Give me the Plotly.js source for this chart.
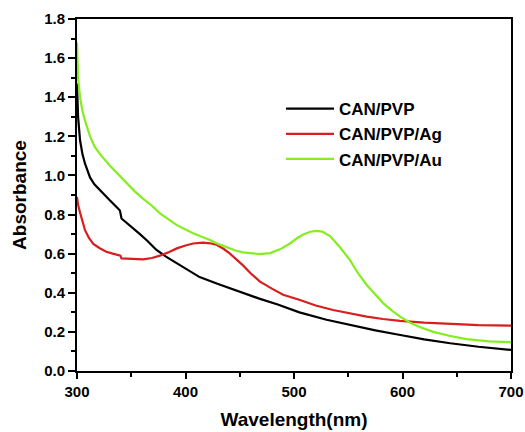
<!DOCTYPE html>
<html>
<head>
<meta charset="utf-8">
<script src="https://cdn.plot.ly/plotly-3.0.1.min.js"></script>
<style>html,body{margin:0;padding:0;background:#fff;}#chart{width:525px;height:432px;}</style>
</head>
<body>
<div id="chart"></div>
<script>
// CAN/PVP
const pvpX = [300, 301, 302.8, 305, 307.4, 312, 316, 321, 330, 338, 339.6, 341, 350, 358, 365, 373, 382, 392, 402, 413, 430, 447, 468, 485, 505, 530, 552, 575, 598, 620, 644, 670, 700];
const pvpY = [1.47, 1.30, 1.18, 1.11, 1.06, 0.99, 0.955, 0.925, 0.874, 0.83, 0.82, 0.78, 0.74, 0.70, 0.665, 0.62, 0.585, 0.55, 0.515, 0.48, 0.445, 0.41, 0.37, 0.34, 0.30, 0.262, 0.235, 0.208, 0.184, 0.162, 0.142, 0.124, 0.108];
// CAN/PVP/Ag
const agX = [300, 301, 302.8, 305, 307.4, 311, 315, 321, 327, 333, 339, 340, 341, 350, 361, 369, 376.5, 385, 392, 400, 407, 416, 423, 429, 435, 441, 447, 453, 460, 468.7, 480, 490, 505.5, 520, 536, 550, 567, 582, 597.7, 620, 643.8, 670, 700];
const agY = [0.89, 0.85, 0.81, 0.76, 0.72, 0.68, 0.65, 0.628, 0.61, 0.60, 0.593, 0.59, 0.576, 0.573, 0.571, 0.578, 0.59, 0.608, 0.627, 0.642, 0.652, 0.656, 0.653, 0.644, 0.625, 0.60, 0.572, 0.54, 0.50, 0.457, 0.42, 0.39, 0.363, 0.335, 0.312, 0.295, 0.278, 0.266, 0.256, 0.247, 0.240, 0.235, 0.232];
// CAN/PVP/Au
const auX = [300, 300.5, 301, 302.8, 305, 307.4, 312, 316, 321, 330.4, 338, 345.8, 353, 361, 369, 376.5, 384, 392, 400, 407, 415, 422.6, 430, 438, 446, 453, 460, 468, 478, 487, 496.3, 503, 508.6, 515, 520.9, 526, 533.2, 542, 551.6, 559, 567, 575, 582.4, 590, 597.7, 607, 617, 628.4, 643, 659, 680, 700];
const auY = [1.68, 1.59, 1.50, 1.40, 1.33, 1.28, 1.20, 1.15, 1.11, 1.05, 1.005, 0.96, 0.92, 0.88, 0.845, 0.806, 0.775, 0.746, 0.724, 0.704, 0.686, 0.67, 0.65, 0.632, 0.616, 0.607, 0.601, 0.598, 0.603, 0.622, 0.652, 0.68, 0.698, 0.712, 0.717, 0.713, 0.69, 0.635, 0.567, 0.50, 0.44, 0.39, 0.346, 0.31, 0.278, 0.247, 0.222, 0.20, 0.18, 0.163, 0.152, 0.147];

const seriesNames = ["CAN/PVP", "CAN/PVP/Ag", "CAN/PVP/Au"];
const seriesColors = ["#000000", "#d81e1e", "#84ee1e"];

const traces = [
  {x: pvpX, y: pvpY, name: seriesNames[0], type: "scatter", mode: "lines", line: {color: seriesColors[0], width: 2.2}},
  {x: agX, y: agY, name: seriesNames[1], type: "scatter", mode: "lines", line: {color: seriesColors[1], width: 2.2}},
  {x: auX, y: auY, name: seriesNames[2], type: "scatter", mode: "lines", line: {color: seriesColors[2], width: 2.2}}
];

const layout = {
  width: 525, height: 432,
  margin: {l: 77, r: 14, t: 19, b: 61},
  paper_bgcolor: "#ffffff", plot_bgcolor: "#ffffff",
  font: {family: "Liberation Sans, Arial, sans-serif", color: "#000", weight: "bold"},
  showlegend: true,
  legend: {
    x: 0.47, y: 0.795, xanchor: "left", yanchor: "top",
    bgcolor: "rgba(0,0,0,0)", borderwidth: 0,
    font: {size: 17, weight: "bold", color: "#000"},
    tracegroupgap: 0, itemwidth: 48
  },
  xaxis: {
    range: [300, 700], dtick: 100, tick0: 300,
    showgrid: false, zeroline: false,
    showline: true, linecolor: "#000", linewidth: 2, mirror: true,
    ticks: "outside", ticklen: 6, tickwidth: 2, tickcolor: "#000",
    minor: {dtick: 50, ticks: "outside", ticklen: 4, tickwidth: 2, tickcolor: "#000"},
    tickfont: {size: 15, weight: "bold"},
    title: {text: "Wavelength(nm)", font: {size: 19, weight: "bold"}, standoff: 14}
  },
  yaxis: {
    range: [0, 1.8], dtick: 0.2, tick0: 0, tickformat: ".1f",
    showgrid: false, zeroline: false,
    showline: true, linecolor: "#000", linewidth: 2, mirror: true,
    ticks: "outside", ticklen: 7, tickwidth: 2, tickcolor: "#000",
    minor: {dtick: 0.1, ticks: "outside", ticklen: 4, tickwidth: 2, tickcolor: "#000"},
    tickfont: {size: 15, weight: "bold"},
    title: {text: "Absorbance", font: {size: 19, weight: "bold"}, standoff: 12}
  }
};

Plotly.newPlot("chart", traces, layout, {staticPlot: true, displayModeBar: false});
</script>
</body>
</html>
